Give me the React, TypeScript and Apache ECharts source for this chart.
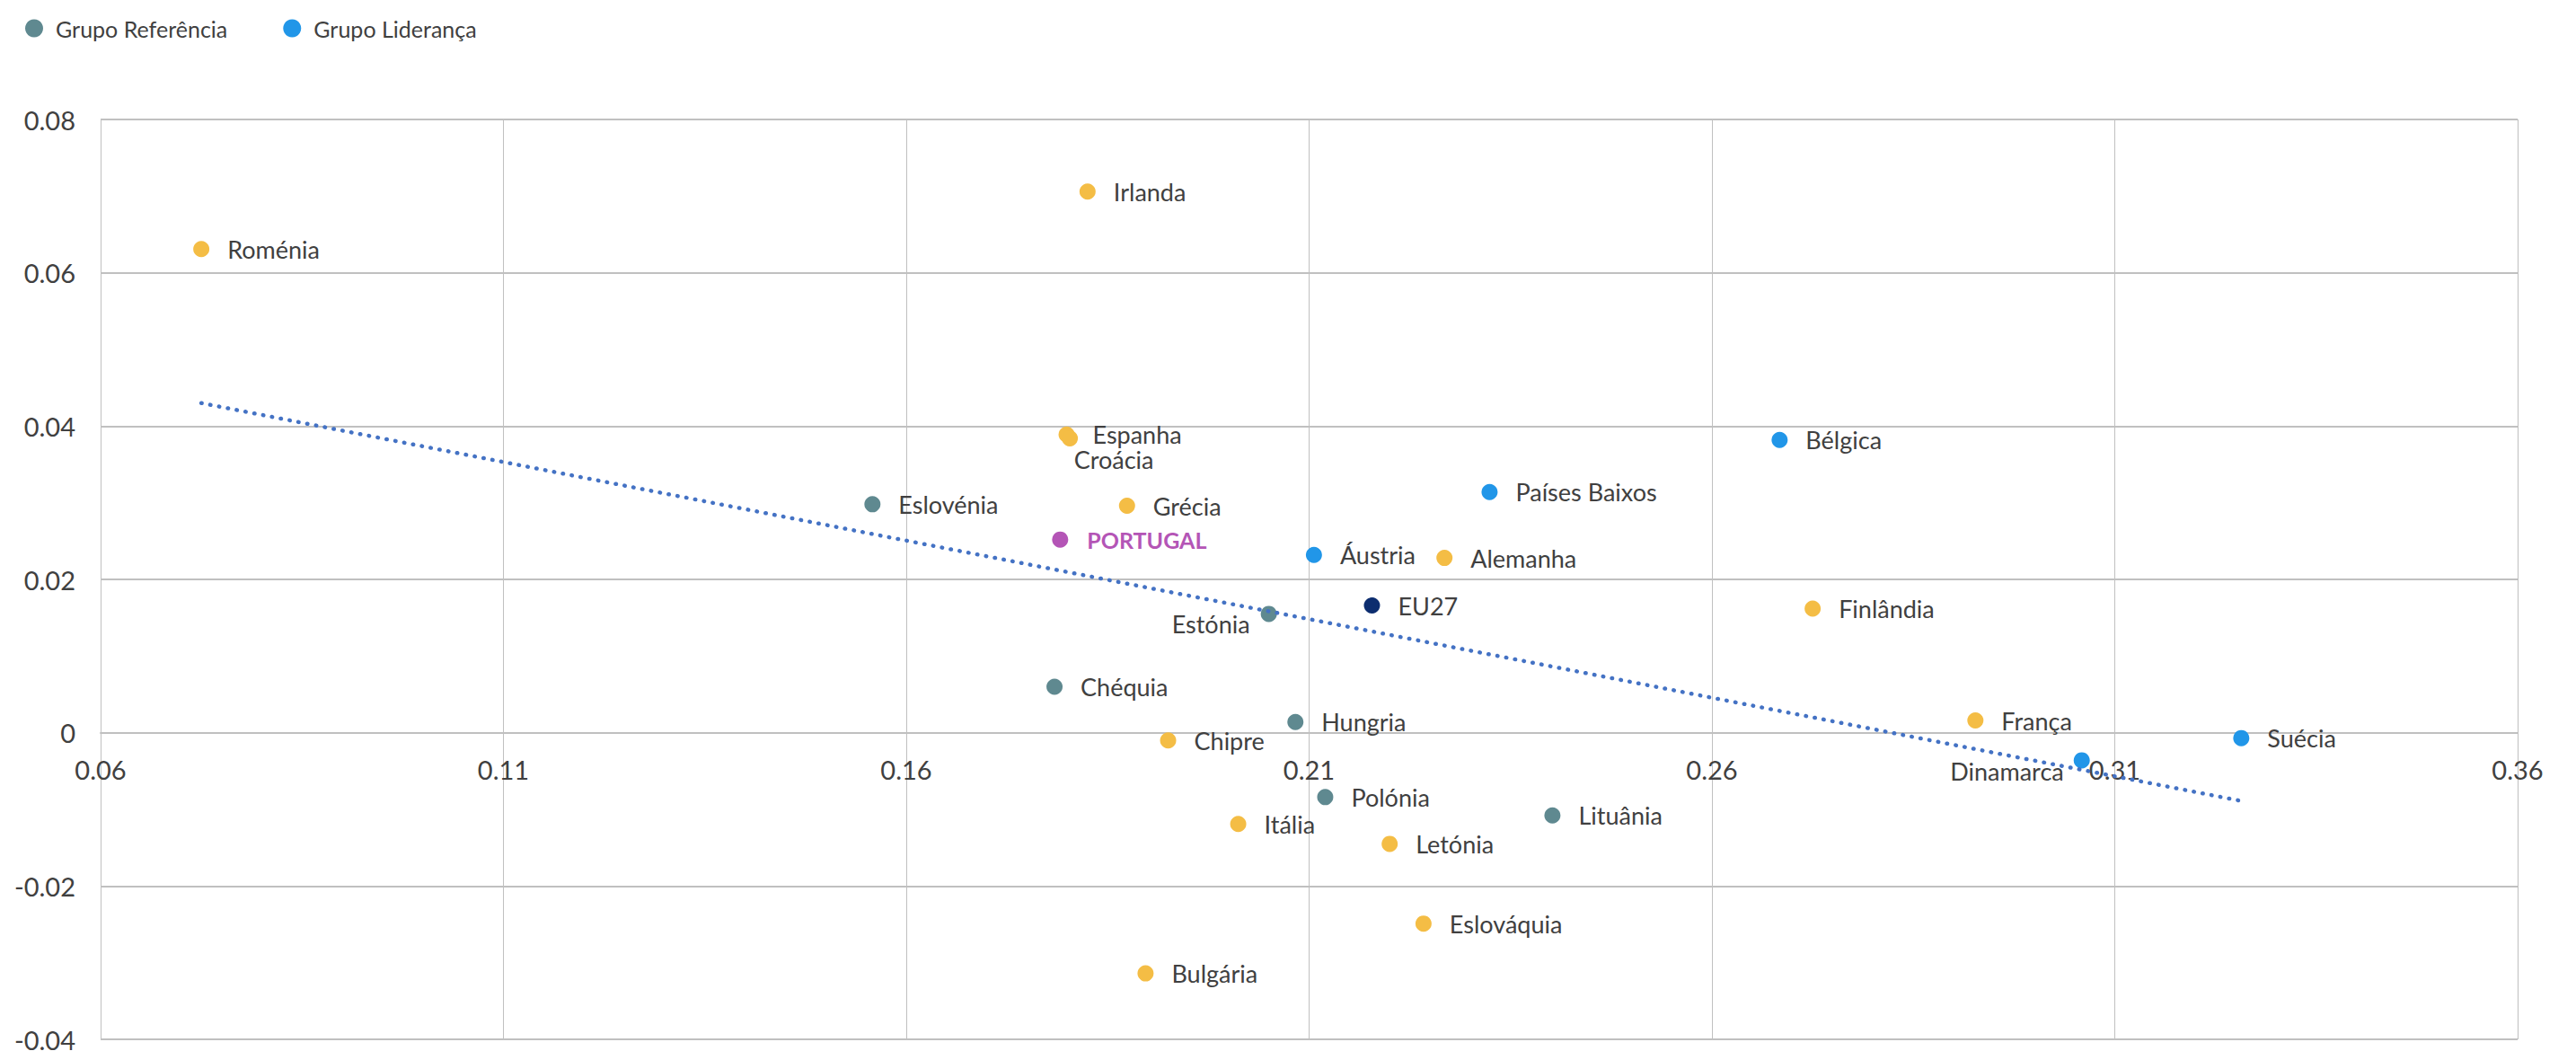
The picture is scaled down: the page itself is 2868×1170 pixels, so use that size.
import React, { useEffect, useRef } from "react";
import * as echarts from "echarts";

// ---- Data ----
const referenceNames = ["Eslovénia", "Chéquia", "Estónia", "Hungria", "Polónia", "Lituânia"];
const referenceX = [0.1558, 0.1784, 0.205, 0.2083, 0.212, 0.2402];
const referenceY = [0.0298, 0.006, 0.0155, 0.0014, -0.0084, -0.0108];

const leaderNames = ["Áustria", "Países Baixos", "Bélgica", "Dinamarca", "Suécia"];
const leaderX = [0.2106, 0.2324, 0.2684, 0.3059, 0.3257];
const leaderY = [0.0232, 0.0314, 0.0382, -0.0036, -0.0007];

const otherNames = [
  "Roménia", "Irlanda", "Espanha", "Croácia", "Grécia", "Alemanha", "Finlândia",
  "França", "Chipre", "Itália", "Letónia", "Eslováquia", "Bulgária",
];
const otherX = [0.0725, 0.1825, 0.1799, 0.1803, 0.1874, 0.2268, 0.2725, 0.2927, 0.1925, 0.2012, 0.22, 0.2242, 0.1897];
const otherY = [0.0631, 0.0706, 0.0389, 0.0384, 0.0296, 0.0228, 0.0162, 0.0016, -0.001, -0.0119, -0.0145, -0.0249, -0.0314];

const portugalName = "PORTUGAL";
const portugalXY = [0.1791, 0.0252];
const eu27Name = "EU27";
const eu27XY = [0.2178, 0.0166];

const trendX = [0.0725, 0.3257];
const trendY = [0.043, -0.0089];

const xTicks = { min: 0.06, max: 0.36, step: 0.05 };
const yTicks = { min: -0.04, max: 0.08, step: 0.02 };

// ---- Layout / styles ----
const W = 2868;
const H = 1170;
const GRID = { left: 112, right: 65, top: 133, bottom: 13 };
const FONT = "Lato";
const TEXT = "#404040";
const GRID_COLOR = "#c0c0c0";
const C_REF = "#5f8990";
const C_LEAD = "#2196e8";
const C_OTHER = "#f4bd45";
const C_PT = "#b455b6";
const C_EU = "#0c2d6f";

// The x axis sits on y = 0 (as in the reference): shift it up from the grid bottom.
const plotH = H - GRID.top - GRID.bottom;
const zeroFromBottom = (plotH * (0 - yTicks.min)) / (yTicks.max - yTicks.min);

const labelOverrides: Record<string, any> = {
  "Croácia": { position: "bottom", distance: 0, offset: [49, 1] },
  "Estónia": { position: "left", distance: 12, offset: [0, 11] },
  "Dinamarca": { position: "left", distance: 11, offset: [0, 12] },
};

function pts(names: string[], xs: number[], ys: number[]) {
  return names.map((n, i) => {
    const d: any = { name: n, value: [xs[i], ys[i]] };
    if (labelOverrides[n]) d.label = labelOverrides[n];
    return d;
  });
}

const baseLabel = {
  show: true,
  position: "right",
  distance: 20,
  formatter: "{b}",
  color: TEXT,
  fontFamily: FONT,
  fontSize: 27,
};

const fmt = (v: number) => String(Math.round(v * 100) / 100);

export default function App() {
  const ref = useRef<HTMLDivElement>(null);
  useEffect(() => {
    if (!ref.current) return;
    const chart = echarts.init(ref.current, undefined, { renderer: "svg" });
    chart.setOption({
      animation: false,
      backgroundColor: "#ffffff",
      textStyle: { fontFamily: FONT },
      legend: {
        left: 28,
        top: 19,
        padding: 0,
        icon: "circle",
        itemWidth: 20,
        itemHeight: 20,
        itemGap: 62,
        data: ["Grupo Referência", "Grupo Liderança"],
        textStyle: { fontFamily: FONT, fontSize: 25, color: TEXT, padding: [0, 0, 0, 9] },
      },
      grid: {
        ...GRID,
        containLabel: false,
        outerBoundsMode: "none",
      },
      xAxis: {
        type: "value",
        min: xTicks.min,
        max: xTicks.max,
        interval: xTicks.step,
        offset: -zeroFromBottom,
        axisLine: {
          show: true,
          onZero: false,
          lineStyle: { color: GRID_COLOR, width: 2 },
        },
        axisTick: { show: false },
        axisLabel: {
          color: TEXT,
          fontFamily: FONT,
          fontSize: 29,
          margin: 26,
          showMinLabel: true,
          showMaxLabel: true,
          hideOverlap: false,
          formatter: fmt,
        },
        splitLine: { show: true, lineStyle: { color: GRID_COLOR, width: 1 } },
      },
      yAxis: {
        type: "value",
        min: yTicks.min,
        max: yTicks.max,
        interval: yTicks.step,
        axisLine: { show: true, onZero: false, lineStyle: { color: GRID_COLOR, width: 1 } },
        axisTick: { show: false },
        axisLabel: {
          color: TEXT,
          fontFamily: FONT,
          fontSize: 29,
          margin: 28,
          formatter: fmt,
        },
        splitLine: { show: true, lineStyle: { color: GRID_COLOR, width: 2 } },
      },
      series: [
        {
          name: "Outros",
          type: "scatter",
          symbolSize: 18,
          itemStyle: { color: C_OTHER, opacity: 1 },
          label: baseLabel,
          data: pts(otherNames, otherX, otherY),
          z: 2,
        },
        {
          name: "Grupo Referência",
          type: "scatter",
          symbolSize: 18,
          itemStyle: { color: C_REF, opacity: 1 },
          label: baseLabel,
          data: pts(referenceNames, referenceX, referenceY),
          z: 2,
        },
        {
          name: "Grupo Liderança",
          type: "scatter",
          symbolSize: 18,
          itemStyle: { color: C_LEAD, opacity: 1 },
          label: baseLabel,
          data: pts(leaderNames, leaderX, leaderY),
          z: 2,
        },
        {
          name: portugalName,
          type: "scatter",
          symbolSize: 18,
          itemStyle: { color: C_PT, opacity: 1 },
          label: { ...baseLabel, color: C_PT, fontWeight: "bold", fontSize: 25, distance: 21 },
          data: [{ name: portugalName, value: portugalXY }],
          z: 2,
        },
        {
          name: eu27Name,
          type: "scatter",
          symbolSize: 18,
          itemStyle: { color: C_EU, opacity: 1 },
          label: baseLabel,
          data: [{ name: eu27Name, value: eu27XY }],
          z: 2,
        },
        {
          name: "Tendência",
          type: "line",
          symbol: "none",
          silent: true,
          lineStyle: { color: "#4472c4", width: 4.5, type: [0.5, 9.5], cap: "round" },
          data: trendX.map((x, i) => [x, trendY[i]]),
          z: 5,
        },
      ],
    });
    return () => chart.dispose();
  }, []);
  return (
    <div
      ref={ref}
      style={{ position: "fixed", left: 0, top: 0, width: W, height: H }}
    />
  );
}
